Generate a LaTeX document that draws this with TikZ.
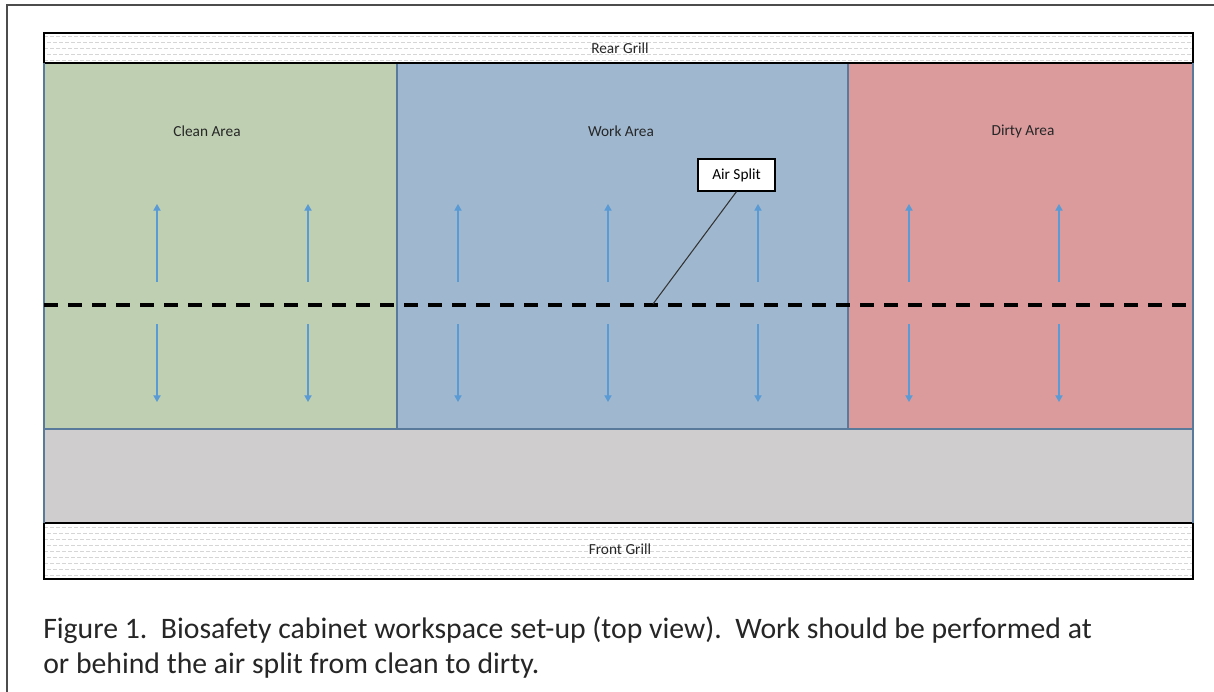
\documentclass[tikz,border=0pt]{standalone}
\usepackage{fontspec}
\setmainfont{Carlito}
\usetikzlibrary{arrows.meta}
\definecolor{cleanc}{HTML}{BFD0B2}
\definecolor{workc}{HTML}{9FB8D0}
\definecolor{dirtyc}{HTML}{DB9B9C}
\definecolor{grayc}{HTML}{CFCDCE}
\definecolor{edgec}{HTML}{5A7A9C}
\definecolor{arrowc}{HTML}{5B9BD5}
\definecolor{hatchc}{HTML}{D6D6D6}
\begin{document}
\begin{tikzpicture}[x=0.75pt,y=-0.75pt,
  area/.style={draw=edgec, line width=0.9pt},
  grill/.style={draw=black, line width=1pt},
  lbl/.style={font=\fontsize{11.5pt}{13pt}\selectfont, text=black!85},
  flow/.style={draw=arrowc, line width=0.8pt, -{Triangle[width=5.5pt,length=5pt]}},
  split/.style={draw=black, line width=2.3pt, dash pattern=on 10.5pt off 7.5pt},
  callout/.style={draw=black, fill=white, line width=0.9pt, minimum width=77*0.75pt, minimum height=32*0.75pt, inner sep=0pt, font=\fontsize{11.5pt}{13pt}\selectfont},
  hatch/.style={draw=hatchc, line width=0.6pt, dash pattern=on 3pt off 1.5pt},
  caption/.style={anchor=base west, inner sep=0pt, font=\fontsize{22.3pt}{26pt}\selectfont, text=black!85}]
\useasboundingbox (0,0) rectangle (1214,692);
\fill[white] (0,0) rectangle (1214,692);
\draw[black!70, line width=1pt] (7,692) -- (7,5) -- (1214,5);

% areas
\path[area, fill=cleanc] (44,63) rectangle (397,429);
\path[area, fill=workc] (397,63) rectangle (848,429);
\path[area, fill=dirtyc] (848,63) rectangle (1193,429);
\path[area, fill=grayc] (44,429) rectangle (1193,523);

% grills
\fill[white] (44,33) rectangle (1193,63);
\fill[white] (44,523) rectangle (1193,579);
\begin{scope}
\clip (44,33) rectangle (1193,63);
\foreach \y in {36,48,60} \draw[hatch] (44,\y) -- (1193,\y);
\foreach \y in {42,54} \draw[hatch, dash phase=2.25pt] (44,\y) -- (1193,\y);
\end{scope}
\begin{scope}
\clip (44,523) rectangle (1193,579);
\foreach \y in {527,539,551,563,575} \draw[hatch] (44,\y) -- (1193,\y);
\foreach \y in {533,545,557,569} \draw[hatch, dash phase=2.25pt] (44,\y) -- (1193,\y);
\end{scope}
\draw[grill] (44,33) rectangle (1193,63);
\draw[grill] (44,523) rectangle (1193,579);
\draw[area] (44,63) -- (44,523);
\draw[area] (1193,63) -- (1193,523);

% labels
\node[lbl] (rear) at (620,48) {Rear Grill};
\node[lbl] (front) at (620,549) {Front Grill};
\node[lbl] (clean) at (207,131) {Clean Area};
\node[lbl] (work) at (621,131) {Work Area};
\node[lbl] (dirty) at (1023,131) {Dirty Area};

% flow arrows
\foreach \x [count=\i] in {157,308,458,608,758,909,1059} {
  \coordinate (u\i a) at (\x,282);
  \coordinate (u\i b) at (\x,204);
  \coordinate (d\i a) at (\x,324);
  \coordinate (d\i b) at (\x,402);
  \draw[flow] (u\i a) -- (u\i b);
  \draw[flow] (d\i a) -- (d\i b);
}

% air split line
\coordinate (sl) at (44,305);
\coordinate (sr) at (1193,305);
\draw[split] (sl) -- (sr);

% callout
\node[callout] (air) at (736.5,175) {Air Split};
\coordinate (airpt) at (653,304);
\draw[black!80, line width=0.8pt] (air.south) -- (airpt);

% caption
\node[caption] (cap1) at (43,638) {Figure 1.\ \ Biosafety cabinet workspace set-up (top view).\ \ Work should be performed at};
\node[caption] (cap2) at (43,673) {or behind the air split from clean to dirty.};
\end{tikzpicture}
\end{document}
